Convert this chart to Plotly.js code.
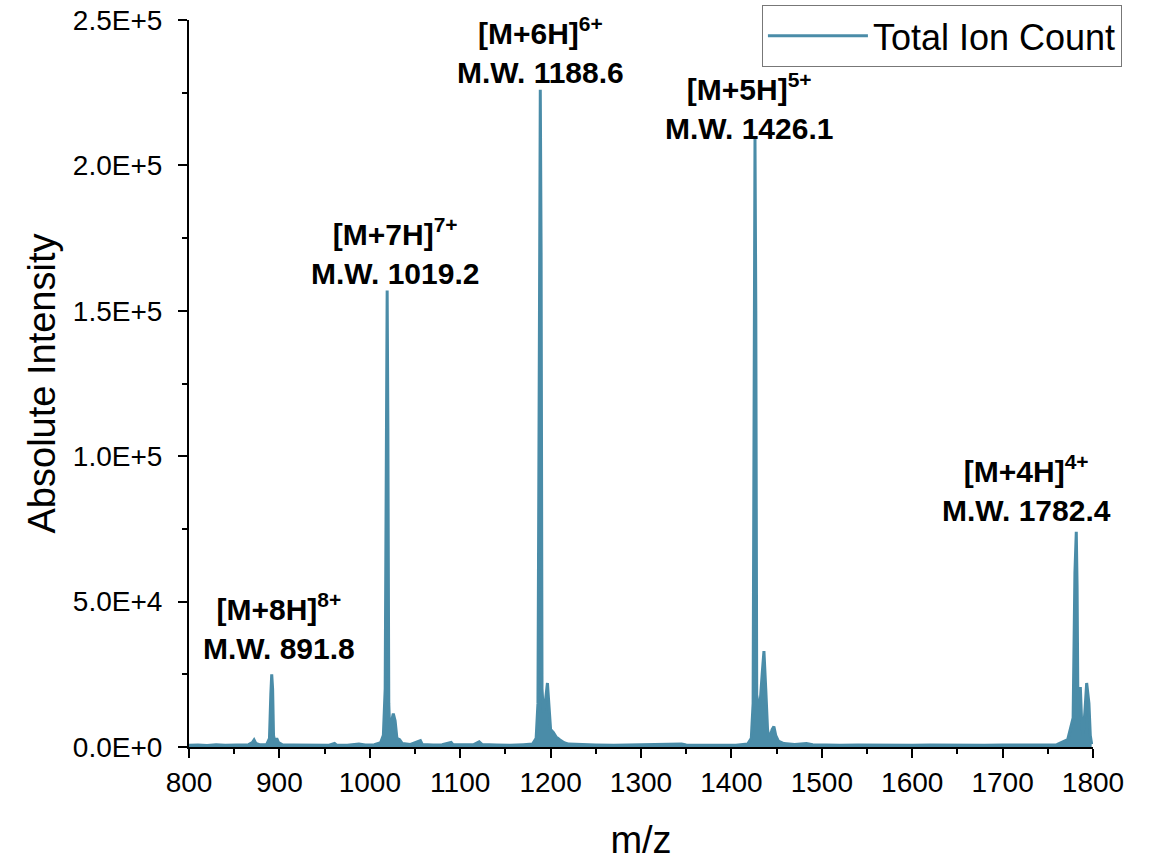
<!DOCTYPE html>
<html>
<head>
<meta charset="utf-8">
<script src="https://cdn.plot.ly/plotly-3.0.1.min.js"></script>
<style>html,body{margin:0;padding:0;background:#fff;}#chart{width:1151px;height:861px;}</style>
</head>
<body>
<div id="chart"></div>
<script>
// m/z values of the spectrum
const mz = [800, 810, 820, 830, 840, 850, 860, 866, 870, 872, 874, 878, 886, 889, 890.5, 891.5, 892.5, 893.5, 895, 897, 899, 903, 915, 930, 945, 955, 961, 963, 975, 988, 995, 1005, 1012, 1015, 1017, 1018.4, 1019.2, 1020, 1021, 1022, 1024, 1026, 1028, 1030, 1033, 1036, 1045, 1056, 1058, 1070, 1080, 1090, 1092, 1105, 1115, 1121, 1124, 1140, 1155, 1170, 1180, 1184, 1186, 1187.7, 1188.6, 1189.5, 1190.5, 1192, 1194, 1196.5, 1198, 1200, 1203, 1206, 1210, 1215, 1220, 1235, 1250, 1270, 1290, 1310, 1330, 1345, 1350, 1370, 1390, 1405, 1418, 1422, 1424, 1425.3, 1426.1, 1427, 1428, 1430, 1432, 1434, 1436, 1438, 1440, 1442, 1445, 1447, 1449, 1452, 1458, 1470, 1483, 1490, 1500, 1520, 1540, 1560, 1580, 1600, 1620, 1640, 1660, 1680, 1700, 1720, 1740, 1760, 1772, 1778, 1780, 1781.5, 1782.4, 1783.3, 1784.5, 1786, 1787.5, 1789, 1791, 1793, 1795.5, 1797, 1798.5, 1800];
// absolute intensity at each m/z
const intensity = [600, 700, 500, 800, 600, 700, 600, 800, 1500, 2400, 1200, 800, 900, 3000, 18000, 25000, 20000, 4000, 1500, 3000, 1500, 800, 700, 600, 700, 600, 1200, 700, 600, 1000, 700, 800, 1500, 4000, 20000, 120000, 157000, 110000, 15000, 6000, 9000, 11500, 9000, 3000, 2500, 1200, 900, 2200, 900, 700, 800, 1600, 800, 700, 800, 1800, 900, 700, 600, 800, 1000, 3000, 15000, 150000, 226000, 170000, 20000, 12000, 15000, 22000, 15000, 6000, 5000, 3500, 2500, 1500, 1000, 800, 700, 600, 700, 600, 700, 1000, 700, 600, 700, 600, 1000, 3000, 15000, 160000, 209500, 150000, 18000, 14000, 16000, 25000, 33000, 20000, 6000, 2500, 6000, 7000, 4000, 2000, 1200, 900, 1200, 800, 700, 600, 700, 600, 700, 600, 700, 600, 700, 600, 700, 600, 700, 800, 2500, 10000, 60000, 74000, 55000, 15000, 18000, 20600, 8000, 4000, 12000, 22000, 15000, 4000, 1000];

const seriesName = 'Total Ion Count';
const yTickVals = [0, 50000, 100000, 150000, 200000, 250000];
const yTickText = ['0.0E+0', '5.0E+4', '1.0E+5', '1.5E+5', '2.0E+5', '2.5E+5'];
const yMinorVals = [25000, 75000, 125000, 175000, 225000];
const xTickVals = [800, 900, 1000, 1100, 1200, 1300, 1400, 1500, 1600, 1700, 1800];

// peak labels
const labelIon = ['[M+8H]<sup>8+</sup>', '[M+7H]<sup>7+</sup>', '[M+6H]<sup>6+</sup>', '[M+5H]<sup>5+</sup>', '[M+4H]<sup>4+</sup>'];
const labelMW = ['891.8', '1019.2', '1188.6', '1426.1', '1782.4'];
const labelX = [899.5, 1028, 1188.7, 1420, 1726];
const labelY = [27500, 156500, 225500, 206500, 74800];

const color = '#4a8ca8';
const font = 'Liberation Sans, Arial, sans-serif';

const traces = [
  {x: mz, y: intensity, type: 'scatter', mode: 'lines', fill: 'tozeroy',
   fillcolor: color, line: {color: color, width: 0}, showlegend: false, hoverinfo: 'skip'},
  {x: mz, y: intensity, type: 'scatter', mode: 'lines', name: seriesName,
   line: {color: color, width: 3}}
];

const annotations = labelIon.map((t, i) => ({
  x: labelX[i], y: labelY[i], xref: 'x', yref: 'y',
  text: '<b>' + t + '<br>M.W. ' + labelMW[i] + '</b>',
  showarrow: false, xanchor: 'center', yanchor: 'bottom',
  font: {family: font, size: 30, color: '#000'}
}));

const layout = {
  width: 1151, height: 861,
  margin: {l: 189, r: 58, t: 20, b: 114, autoexpand: false},
  paper_bgcolor: '#fff', plot_bgcolor: '#fff',
  font: {family: font, color: '#000'},
  showlegend: true,
  legend: {x: 1.032, xanchor: 'right', y: 1.021, yanchor: 'top',
           bordercolor: '#777', borderwidth: 1, bgcolor: '#fff',
           font: {family: font, size: 36, color: '#000'}, itemwidth: 100,
           tracegroupgap: 0},
  xaxis: {range: [800, 1800], tickvals: xTickVals, ticks: 'outside', ticklen: 9, tickwidth: 2,
          tickcolor: '#000', showline: true, linecolor: '#000', linewidth: 2, showgrid: false,
          zeroline: false, tickfont: {family: font, size: 28},
          minor: {dtick: 50, ticks: 'outside', ticklen: 5, tickwidth: 2, tickcolor: '#000', showgrid: false},
          title: {text: 'm/z', font: {family: font, size: 38}, standoff: 34}},
  yaxis: {range: [0, 250000], tickvals: yTickVals, ticktext: yTickText, ticks: 'outside', ticklen: 9,
          tickwidth: 2, tickcolor: '#000', showline: true, linecolor: '#000', linewidth: 2,
          showgrid: false, zeroline: false, tickfont: {family: font, size: 28}, ticklabelstandoff: 10,
          minor: {tickvals: yMinorVals, ticks: 'outside', ticklen: 5, tickwidth: 2, tickcolor: '#000', showgrid: false},
          title: {text: 'Absolute Intensity', font: {family: font, size: 38}, standoff: 6}},
  annotations: annotations
};

Plotly.newPlot('chart', traces, layout, {displayModeBar: false, staticPlot: true});
</script>
</body>
</html>
